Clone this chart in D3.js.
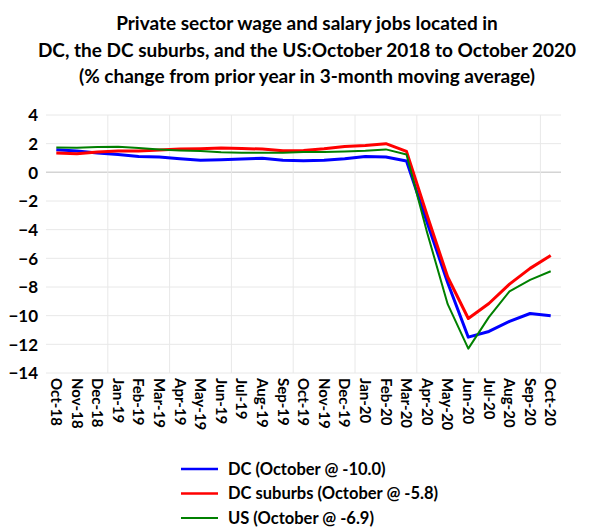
<!DOCTYPE html>
<html>
<head>
<meta charset="utf-8">
<script src="https://cdn.jsdelivr.net/npm/d3@7"></script>
<style>
  body { margin: 0; background: #fff; }
  text { font-family: Lato, "Open Sans", sans-serif; font-weight: bold; fill: #000; }
</style>
</head>
<body>
<svg id="chart"></svg>
<script>
// month labels along the bottom
var months = ["Oct-18","Nov-18","Dec-18","Jan-19","Feb-19","Mar-19","Apr-19","May-19","Jun-19",
              "Jul-19","Aug-19","Sep-19","Oct-19","Nov-19","Dec-19","Jan-20","Feb-20","Mar-20",
              "Apr-20","May-20","Jun-20","Jul-20","Aug-20","Sep-20","Oct-20"];

// % change
var dcValues = [1.58,1.48,1.35,1.25,1.11,1.07,0.95,0.84,0.88,0.93,0.98,0.84,0.81,0.84,0.95,1.11,1.07,0.79,
                -3.5,-7.7,-11.5,-11.1,-10.4,-9.85,-10.0];
var suburbValues = [1.35,1.3,1.42,1.48,1.48,1.55,1.62,1.65,1.7,1.67,1.62,1.5,1.53,1.65,1.81,1.88,2.0,1.46,
                    -3.0,-7.3,-10.2,-9.15,-7.8,-6.7,-5.8];
var usValues = [1.74,1.72,1.76,1.79,1.7,1.6,1.53,1.48,1.4,1.37,1.37,1.37,1.42,1.42,1.46,1.5,1.6,1.25,
                -4.2,-9.2,-12.3,-10.1,-8.3,-7.5,-6.9];

var yTicks = [4,2,0,-2,-4,-6,-8,-10,-12,-14];
var titleLines = ["Private sector wage and salary jobs located in",
                  "DC, the DC suburbs, and the US:October 2018 to October 2020",
                  "(% change from prior year in 3-month moving average)"];

var series = [
  {name:"DC (October @ -10.0)", values: dcValues, color:"#0000ff", width:3},
  {name:"DC suburbs (October @ -5.8)", values: suburbValues, color:"#ff0000", width:3},
  {name:"US (October @ -6.9)", values: usValues, color:"#008000", width:2}
];

var screen = {width:591, height:527};
var plot = {left:46, right:561, top:115, bottom:373};

var svg = d3.select("#chart")
    .attr("width", screen.width)
    .attr("height", screen.height);

// title
svg.append("g").attr("id","title")
    .selectAll("text")
    .data(titleLines)
    .enter()
    .append("text")
    .attr("x", 307)
    .attr("y", function(d,i){ return 30 + i*26.5; })
    .attr("text-anchor","middle")
    .style("font-size","19px")
    .text(function(d){ return d; });

var xScale = d3.scaleBand()
    .domain(months)
    .range([plot.left, plot.right]);

var yScale = d3.scaleLinear()
    .domain([-14, 4])
    .range([plot.bottom, plot.top]);

var cx = function(m){ return xScale(m) + xScale.bandwidth()/2; };

// gridlines
var grid = svg.append("g").attr("id","grid");
grid.selectAll("line.h")
    .data(yTicks)
    .enter()
    .append("line")
    .attr("x1", plot.left).attr("x2", plot.right)
    .attr("y1", function(d){ return yScale(d); })
    .attr("y2", function(d){ return yScale(d); })
    .attr("stroke", function(d){ return d === 0 ? "#d4d4d4" : "#e8e8e8"; })
    .attr("stroke-width", function(d){ return d === 0 ? 1.5 : 1; });

// vertical lines every third month boundary
var vMonths = months.filter(function(m,i){ return i % 3 === 2 && i < months.length - 1; });
grid.selectAll("line.v")
    .data(vMonths)
    .enter()
    .append("line")
    .attr("x1", function(d){ return xScale(d) + xScale.bandwidth(); })
    .attr("x2", function(d){ return xScale(d) + xScale.bandwidth(); })
    .attr("y1", plot.top).attr("y2", plot.bottom)
    .attr("stroke", "#e8e8e8");

// y axis labels
var yAxis = d3.axisLeft(yScale).tickValues(yTicks).tickSize(0).tickPadding(8);
var yG = svg.append("g")
    .attr("transform","translate(" + plot.left + ",0)")
    .call(yAxis);
yG.select(".domain").remove();
yG.selectAll("text").style("font-size","17px").attr("dy","0.35em");

// x axis labels rotated
var xAxis = d3.axisBottom(xScale).tickSize(0).tickPadding(0);
var xG = svg.append("g")
    .attr("transform","translate(0," + (plot.bottom + 5) + ")")
    .call(xAxis);
xG.select(".domain").remove();
xG.selectAll("text")
    .style("font-size","15px")
    .attr("text-anchor","start")
    .attr("transform","rotate(90)")
    .attr("x", 0)
    .attr("y", 0)
    .attr("dy","0.35em");

// lines
var lineGen = d3.line()
    .x(function(v,i){ return cx(months[i]); })
    .y(function(v){ return yScale(v); });

svg.append("g").attr("id","lines")
    .selectAll("path")
    .data(series)
    .enter()
    .append("path")
    .attr("fill","none")
    .attr("stroke", function(s){ return s.color; })
    .attr("stroke-width", function(s){ return s.width; })
    .attr("stroke-linejoin","round")
    .attr("d", function(s){ return lineGen(s.values); });

// legend
var legend = svg.append("g").attr("id","legend")
    .attr("transform","translate(181,469)");
var gs = legend.selectAll("g")
    .data(series)
    .enter()
    .append("g")
    .attr("transform", function(s,i){ return "translate(0," + (i*24.5) + ")"; });
gs.append("line")
    .attr("x1",0).attr("x2",37)
    .attr("stroke", function(s){ return s.color; })
    .attr("stroke-width", function(s){ return s.width === 3 ? 2.5 : 2; });
gs.append("text")
    .attr("x", 47)
    .attr("dy","0.35em")
    .style("font-size","16.5px")
    .text(function(s){ return s.name; });
</script>
</body>
</html>
